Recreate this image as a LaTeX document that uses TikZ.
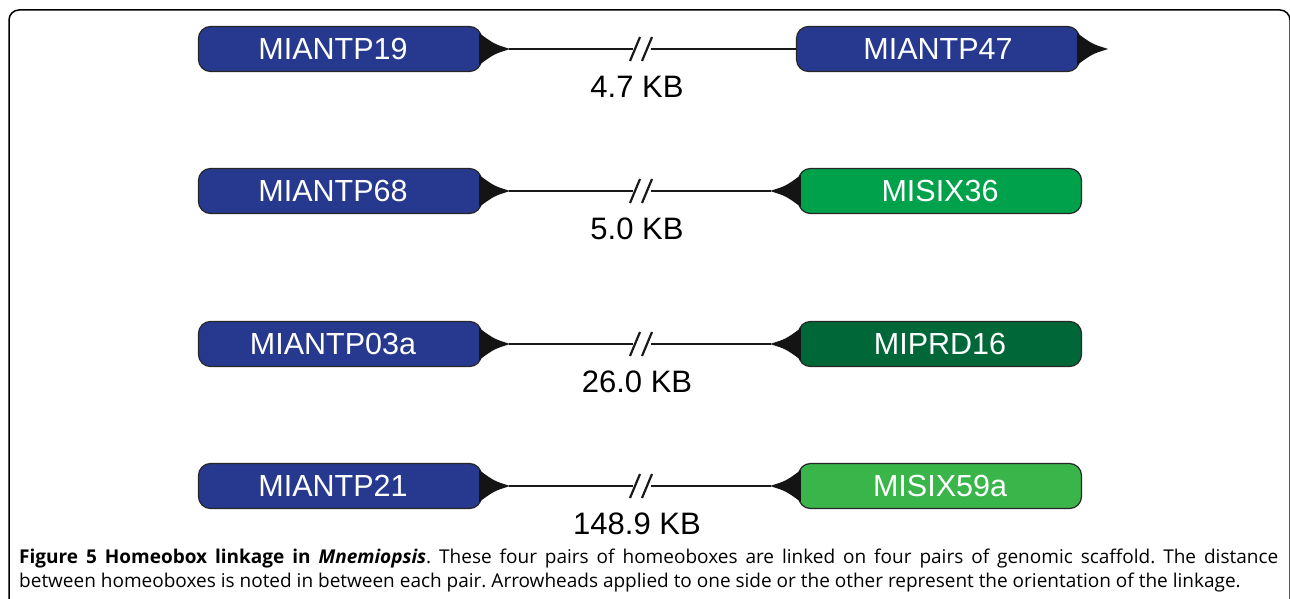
\documentclass[tikz,border=0pt]{standalone}
\usepackage{fontspec}
\setmainfont{Liberation Sans}
\newfontfamily\capfont{Open Sans}
\definecolor{geneblue}{RGB}{38,57,143}
\definecolor{genegreen}{RGB}{0,161,75}
\definecolor{genedark}{RGB}{0,104,56}
\definecolor{genelight}{RGB}{57,181,74}
\frenchspacing
\begin{document}
\begin{tikzpicture}[x=1pt,y=-1pt,
  gene/.style={rounded corners=12pt, draw=black!85, line width=1.2pt,
    minimum width=283pt, minimum height=45pt, inner sep=0pt, text=white,
    font=\fontsize{30.5}{31}\selectfont},
  conn/.style={line width=2pt, black!90},
  brk/.style={line width=2.2pt, black!90},
  dist/.style={font=\fontsize{31}{32}\selectfont, inner sep=0pt},
  capt/.style={anchor=base west, inner sep=0pt, font=\capfont\fontsize{19}{20}\selectfont}]
\useasboundingbox (0,0) rectangle (1290,599);
\draw[line width=1.5pt, rounded corners=10pt] (9,640) -- (9,10) -- (1290,10) -- (1290,640);

\foreach \y/\i/\la/\kb in {
   49/1/MIANTP19/4.7 KB,
  191/2/MIANTP68/5.0 KB,
  344/3/MIANTP03a/26.0 KB,
  486/4/MIANTP21/148.9 KB}{
  \node[gene, fill=geneblue] (a\i) at (340,\y) {\hspace*{-14pt}\la};
  \fill[black!92] ([xshift=-3pt,yshift=16pt]a\i.east) .. controls ([xshift=12pt,yshift=5pt]a\i.east) .. ([xshift=28pt]a\i.east)
     .. controls ([xshift=12pt,yshift=-5pt]a\i.east) .. ([xshift=-3pt,yshift=-16pt]a\i.east) -- cycle;
  \coordinate (ta\i) at ([xshift=27pt]a\i.east);
  \coordinate (ka\i) at (633,\y);
  \coordinate (kb\i) at (651,\y);
  \draw[conn] (ta\i) -- (ka\i);
  \draw[brk] (630,\y+12) -- (640,\y-12);
  \draw[brk] (642,\y+12) -- (652,\y-12);
  \node[dist] (d\i) at (637,\y+38) {\kb};
}
% right boxes
\node[gene, fill=geneblue] (b1) at (938,49) {MIANTP47};
\fill[black!92] ([xshift=-3pt,yshift=16pt]b1.east) .. controls ([xshift=12pt,yshift=5pt]b1.east) .. ([xshift=28pt]b1.east)
   .. controls ([xshift=12pt,yshift=-5pt]b1.east) .. ([xshift=-3pt,yshift=-16pt]b1.east) -- cycle;
\draw[conn] (kb1) -- (b1.west);
\foreach \y/\i/\lb/\col in {191/2/MISIX36/genegreen, 344/3/MIPRD16/genedark, 486/4/MISIX59a/genelight}{
  \node[gene, fill=\col] (b\i) at (940,\y) {\lb};
  \fill[black!92] ([xshift=3pt,yshift=16pt]b\i.west) .. controls ([xshift=-12pt,yshift=5pt]b\i.west) .. ([xshift=-28pt]b\i.west)
     .. controls ([xshift=-12pt,yshift=-5pt]b\i.west) .. ([xshift=3pt,yshift=-16pt]b\i.west) -- cycle;
  \coordinate (tb\i) at ([xshift=-27pt]b\i.west);
  \draw[conn] (kb\i) -- (tb\i);
}
% caption
\node[capt] (cap1) at (19,563)
  {\hbox to 1259pt{\textbf{Figure 5 Homeobox linkage in \textit{Mnemiopsis}}. These four pairs of homeoboxes are linked on four pairs of genomic scaffold. The distance}};
\node[capt] (cap2) at (19,587)
  {between homeoboxes is noted in between each pair. Arrowheads applied to one side or the other represent the orientation of the linkage.};
\end{tikzpicture}
\end{document}
